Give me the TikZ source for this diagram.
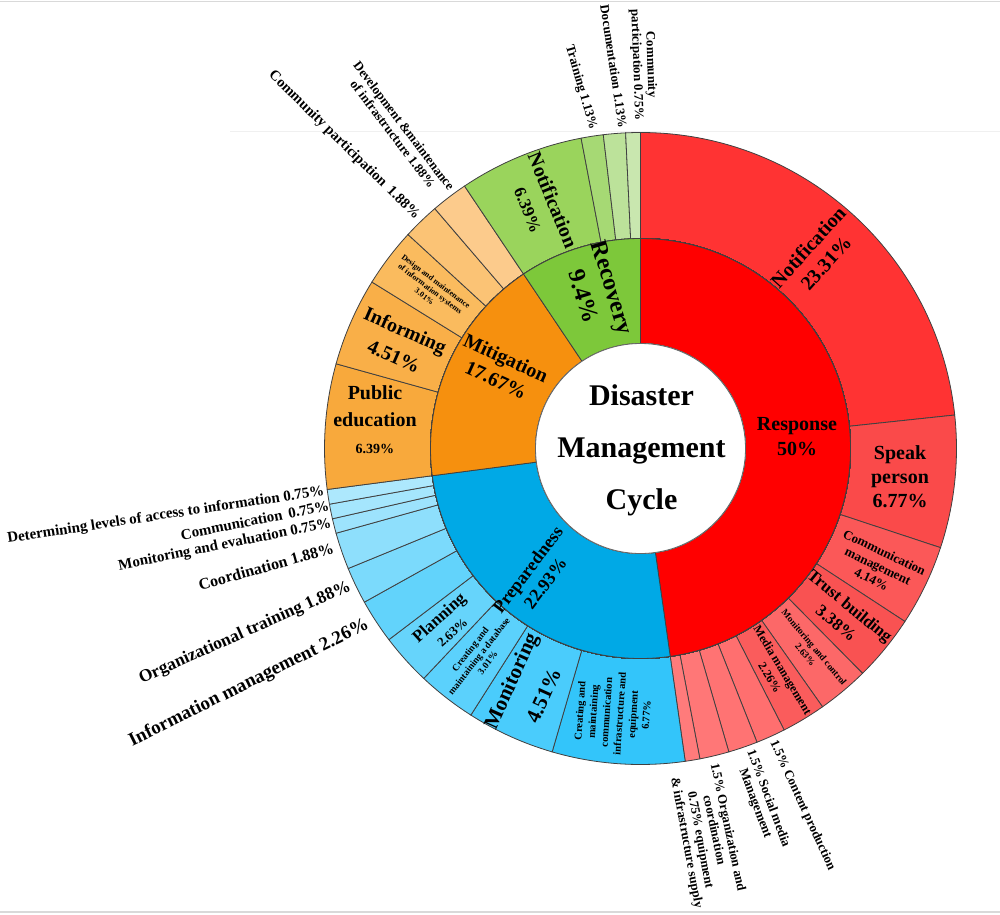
\documentclass[tikz,border=0pt]{standalone}
\usepackage{fontspec}
\setmainfont{Liberation Serif}
\definecolor{respIn}{HTML}{FF0000}
\definecolor{rA}{HTML}{FF3333}
\definecolor{rB}{HTML}{FA4A4A}
\definecolor{rC}{HTML}{FB5858}
\definecolor{rD}{HTML}{F95252}
\definecolor{rE}{HTML}{FC6868}
\definecolor{rF}{HTML}{FA5C5C}
\definecolor{rG}{HTML}{FF6F6F}
\definecolor{rH}{HTML}{FF7373}
\definecolor{rI}{HTML}{FF7777}
\definecolor{rJ}{HTML}{FF7B7B}
\definecolor{prepIn}{HTML}{00A9E6}
\definecolor{pA}{HTML}{33C5FA}
\definecolor{pB}{HTML}{4ACCFC}
\definecolor{pC}{HTML}{5BD1FC}
\definecolor{pD}{HTML}{66D4FB}
\definecolor{pE}{HTML}{62D3FB}
\definecolor{pF}{HTML}{7BDAFC}
\definecolor{pG}{HTML}{8EDFFC}
\definecolor{pH}{HTML}{9DE3FD}
\definecolor{pI}{HTML}{A5E6FD}
\definecolor{pJ}{HTML}{ADE8FD}
\definecolor{mitIn}{HTML}{F6900E}
\definecolor{mA}{HTML}{F8A93C}
\definecolor{mB}{HTML}{F9AF48}
\definecolor{mC}{HTML}{FABB5E}
\definecolor{mD}{HTML}{FBC375}
\definecolor{mE}{HTML}{FCCB8C}
\definecolor{recIn}{HTML}{7DC83A}
\definecolor{gA}{HTML}{9AD45C}
\definecolor{gB}{HTML}{A6D974}
\definecolor{gC}{HTML}{BCE29A}
\definecolor{gD}{HTML}{C9E7AF}
\tikzset{
  seg/.style={draw=black!75, line width=0.8pt},
  lbl/.style={align=center, inner sep=0pt, text=black},
}
\newcommand{\fsz}[2]{\fontsize{#1}{#2}\selectfont\bfseries}
\newcommand{\ringseg}[5]{\filldraw[seg, fill=#5] (#3:#1) arc[start angle=#3, end angle=#4, radius=#1]
  -- (#4:#2) arc[start angle=#4, end angle=#3, radius=#2] -- cycle;}
\begin{document}
\begin{tikzpicture}[x=1pt, y=1pt]
      \useasboundingbox (-640.5,-465.5) rectangle (359.5,448.5);
      \draw[black!15, line width=1.2pt] (-640.5,446.8) -- (359.5,446.8);
      \draw[black!15, line width=1.2pt] (-640.5,-463.5) -- (359.5,-463.5);
      \draw[black!6, line width=1pt] (-410.5,317.5) -- (359.5,317.5);
      % outer ring
      \foreach \a/\b/\c in {90/6.084/rA, 6.084/-18.288/rB, -18.288/-33.192/rC, -33.192/-45.36/rD,
        -45.36/-54.828/rE, -54.828/-62.964/rF, -62.964/-68.364/rG, -68.364/-73.764/rH,
        -73.764/-79.164/rI, -79.164/-81.864/rJ,
        -81.864/-106.236/pA, -106.236/-122.472/pB, -122.472/-133.308/pC, -133.308/-142.776/pD,
        -142.776/-150.912/pE, -150.912/-157.68/pF, -157.68/-164.448/pG, -164.448/-167.148/pH,
        -167.148/-169.848/pI, -169.848/-172.548/pJ,
        187.452/164.448/mA, 164.448/148.212/mB, 148.212/137.376/mC, 137.376/130.608/mD, 130.608/123.84/mE,
        123.84/100.836/gA, 100.836/96.768/gB, 96.768/92.7/gC, 92.7/90/gD}
        \ringseg{210}{316}{\a}{\b}{\c}
      % inner ring
      \foreach \a/\b/\c in {90/-81.864/respIn, -81.864/-172.548/prepIn, 187.452/123.84/mitIn, 123.84/90/recIn}
        \ringseg{105}{210}{\a}{\b}{\c}
      \filldraw[fill=white, draw=black!60, line width=0.8pt] (0,0) circle[radius=105];
      \node[lbl, font=\fsz{30}{52}] (title) at (1,-2) {Disaster\\Management\\Cycle};
      % inner labels
      \node[lbl, font=\fsz{20}{25}] (resp) at (156.5,11.5) {Response\\50\%};
      \node[lbl, font=\fsz{20}{24}, rotate=-24.4] (mit) at (-139.5,79.5) {Mitigation\\17.67\%};
      \node[lbl, font=\fsz{24}{30}, rotate=-73] (rec) at (-42.5,156.5) {Recovery\\9.4\%};
      \node[lbl, font=\fsz{18}{22}, rotate=52.8] (prep) at (-104,-128) {Preparedness\\22.93\%};
      % labels in the outer ring
      \node[lbl, font=\fsz{20}{24}, rotate=48] (notif) at (176.5,193.5) {Notification\\23.31\%};
      \node[lbl, font=\fsz{20}{24}] (speak) at (259.5,-28.5) {Speak\\person\\6.77\%};
      \node[lbl, font=\fsz{13}{15}, rotate=-25.7] (commMgmt) at (237.5,-117.5) {Communication\\management\\4.14\%};
      \node[lbl, font=\fsz{17}{22}, rotate=-39.3] (trust) at (-39.3:262) {Trust building\\3.38\%};
      \node[lbl, font=\fsz{9.5}{11.5}, rotate=-50.1] (monCtrl) at (-50.1:264) {Monitoring and control\\2.63\%};
      \node[lbl, font=\fsz{12}{15}, rotate=-58.9] (media) at (-58.9:263) {Media management\\2.26\%};
      \node[lbl, font=\fsz{10.5}{13.3}, rotate=86] (infra) at (-27.5,-264.5) {Creating and\\maintaining\\communication\\infrastructure and\\equipment\\6.77\%};
      \node[lbl, font=\fsz{21}{36}, rotate=65.65] (monit) at (-113.5,-239.5) {Monitoring\\4.51\%};
      \node[lbl, font=\fsz{9.5}{11}, rotate=52.1] (dbase) at (-127.9:263) {Creating and\\maintaining a database\\3.01\%};
      \node[lbl, font=\fsz{17}{19}, rotate=42] (plan) at (-138:263) {Planning\\{\fsz{13}{15}2.63\%}};
      \node[lbl, font=\fsz{20}{27}] (pubEdu) at (-265.5,28.5) {Public\\education\\{\fsz{14}{16}6.39\%}};
      \node[lbl, font=\fsz{20}{28}, rotate=-23.67] (inform) at (156.33:263) {Informing\\4.51\%};
      \node[lbl, font=\fsz{8}{9.5}, rotate=-37.2] (design) at (142.8:264) {Design and maintenance\\of information systems\\3.01\%};
      \node[lbl, font=\fsz{20}{26}, rotate=-67.66] (recNotif) at (-99.5,243.5) {Notification\\{\fsz{17}{20}6.39\%}};
      % labels outside the ring
      \begin{scope}[lbl, font=\fsz{13}{14}]
        \node[anchor=west, rotate=-65.5] (content) at (132.5,-292.5) {1.5\% Content production};
        \node[anchor=west, rotate=-69.5] (social) at (102.9,-304) {1.5\% Social media\\Management};
        \node[anchor=west, rotate=-78] (organ) at (67.7,-316) {1.5\% Organization and\\coordination};
        \node[anchor=west, rotate=-79.5] (equip) at (40.4,-327.5) {0.75\% equipment\\\& infrastructure supply};
        \node[anchor=east, rotate=-74] (train) at (-47.5,319) {Training 1.13\%};
        \node[anchor=east, rotate=-81.5] (docu) at (-17.5,320.5) {Documentation 1.13\%};
        \node[anchor=east, rotate=-88] (recComm) at (5,328) {Community\\participation 0.75\%};
        \node[anchor=east, rotate=-52.78] (devel) at (127.22:321) {Development \&maintenance\\of infrastructure 1.88\%};
        \node[anchor=east, rotate=-44.5, font=\fsz{14.6}{17}] (mitComm) at (133.99:321) {Community participation\, 1.88\%};
      \end{scope}
      \begin{scope}[lbl, font=\fsz{15}{17}]
        \node[anchor=base east, rotate=26.5, font=\fsz{19}{22}] (infoMgmt) at (-270.5,-179.5) {Information management 2.26\%};
        \node[anchor=base east, rotate=24, font=\fsz{17.5}{20}] (orgTrain) at (-288.5,-141.5) {Organizational training 1.88\%};
        \node[anchor=base east, rotate=15.5, font=\fsz{16}{18}] (coord) at (-305.5,-104.5) {Coordination 1.88\%};
        \node[anchor=base east, rotate=11.5] (monEval) at (-308.5,-78.5) {Monitoring and evaluation 0.75\%};
        \node[anchor=base east, rotate=11.5] (comm) at (-310.5,-61.5) {Communication\, 0.75\%};
        \node[anchor=base east, rotate=8.6] (access) at (-315.5,-46.5) {Determining levels of access to information 0.75\%};
      \end{scope}
    \end{tikzpicture}
\end{document}
